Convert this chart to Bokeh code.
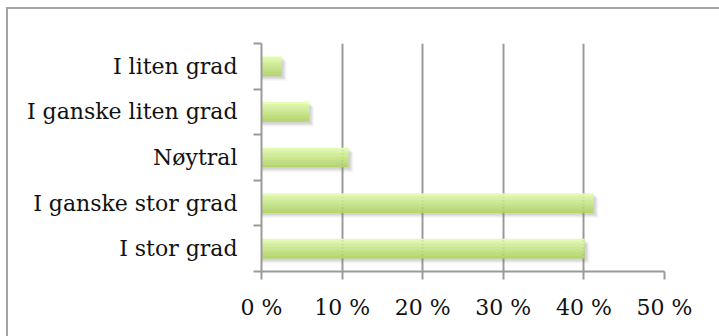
from bokeh.plotting import figure
from bokeh.models import FixedTicker, Range1d
from bokeh.embed import file_html
from bokeh.resources import INLINE

# Survey answers, listed from the bottom bar to the top bar
categories = ["I stor grad", "I ganske stor grad", "Nøytral",
              "I ganske liten grad", "I liten grad"]
shares = [40.1, 41.2, 10.8, 5.9, 2.5]          # percent of respondents
x_ticks = [0, 10, 20, 30, 40, 50]
x_tick_labels = ["0 %", "10 %", "20 %", "30 %", "40 %", "50 %"]

FONT = "DejaVu Serif"
AXIS_GREY = "#9a9a9a"
BAR_TOP = (227, 252, 176)      # light green at the top edge of each bar
BAR_BOTTOM = (178, 213, 104)   # darker green at the bottom edge
BAR_H = 0.43
N_STRIPS = 14

centers = [i + 0.5 for i in range(len(categories))]
boundaries = list(range(len(categories) + 1))

p = figure(width=719, height=336, output_backend="svg", toolbar_location=None,
           x_range=Range1d(0, 50), y_range=Range1d(0, len(categories)),
           frame_width=403, frame_height=228,
           min_border_left=261, min_border_top=43,
           min_border_right=55, min_border_bottom=65)
p.outline_line_color = None
p.background_fill_color = "white"
p.border_fill_alpha = 0
# chart-area border on the left and top edges, painted behind the canvas
p.styles = {
    "background": (
        "linear-gradient(#a4a4a4, #a4a4a4) 6px 7px / 2px 400px no-repeat, "
        "linear-gradient(#a4a4a4, #a4a4a4) 6px 7px / 800px 2px no-repeat, white"),
    "overflow": "hidden",
}

# soft drop shadow, offset down and to the right
dx = 50 / 403   # one pixel in x units
dy = 5 / 228    # one pixel in y units
for k, a in [(5, 0.06), (4, 0.08), (3, 0.11), (2, 0.13)]:
    p.hbar(y=[c - k * dy for c in centers], left=0,
           right=[s + k * dx for s in shares], height=BAR_H,
           fill_color="#808080", fill_alpha=a, line_color=None)

# vertical gradient fill built from thin horizontal strips
strip_h = BAR_H / N_STRIPS
for i in range(N_STRIPS):
    t = i / (N_STRIPS - 1)
    rgb = tuple(int(round(BAR_TOP[j] + (BAR_BOTTOM[j] - BAR_TOP[j]) * t)) for j in range(3))
    color = "#%02x%02x%02x" % rgb
    ys = [c + BAR_H / 2 - (i + 0.5) * strip_h for c in centers]
    p.hbar(y=ys, left=0, right=shares, height=strip_h * 1.08,
           fill_color=color, line_color=None)

# x axis: percent ticks with vertical grid lines
xa = p.xaxis[0]
xa.ticker = FixedTicker(ticks=x_ticks)
xa.major_label_overrides = {t: lab for t, lab in zip(x_ticks, x_tick_labels)}
xa.axis_line_color = AXIS_GREY
xa.axis_line_width = 2
xa.major_tick_line_color = AXIS_GREY
xa.major_tick_line_width = 2
xa.major_tick_out = 8
xa.major_tick_in = 0
xa.minor_tick_line_color = None
xa.major_label_text_font = FONT
xa.major_label_text_font_size = "22px"
xa.major_label_text_color = "#111111"
xa.major_label_standoff = 15

p.xgrid.ticker = FixedTicker(ticks=x_ticks)
p.xgrid.grid_line_color = AXIS_GREY
p.xgrid.grid_line_width = 2
p.ygrid.grid_line_color = None

# y axis: category names, tick marks on the boundaries between categories
ya = p.yaxis[0]
ya.ticker = FixedTicker(ticks=centers, minor_ticks=boundaries)
ya.major_label_overrides = {c: lab for c, lab in zip(centers, categories)}
ya.axis_line_color = AXIS_GREY
ya.axis_line_width = 2
ya.major_tick_line_color = None
ya.major_tick_out = 0
ya.major_tick_in = 0
ya.minor_tick_line_color = AXIS_GREY
ya.minor_tick_line_width = 2
ya.minor_tick_out = 8
ya.minor_tick_in = 0
ya.major_label_text_font = FONT
ya.major_label_text_font_size = "22px"
ya.major_label_text_color = "#111111"
ya.major_label_standoff = 16

open("out.html", "w").write(file_html(p, INLINE))
